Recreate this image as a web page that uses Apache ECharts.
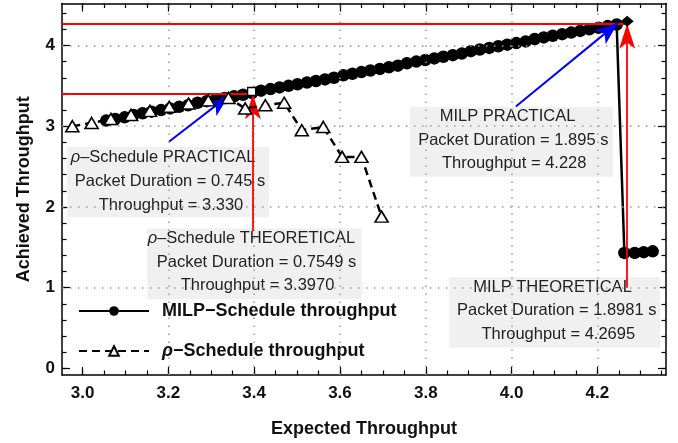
<!DOCTYPE html>
<html><head><meta charset="utf-8">
<script src="https://cdn.jsdelivr.net/npm/echarts@6/dist/echarts.min.js"></script>
<style>html,body{margin:0;padding:0;background:#fff}#c{width:678px;height:443px}</style>
</head><body><div id="c"></div>
<script>
// ---- tick / grid values ----
const xMajorTicks = [3.0, 3.2, 3.4, 3.6, 3.8, 4.0, 4.2];
const xMinorTicks = [3.0, 3.05, 3.1, 3.15, 3.2, 3.25, 3.3, 3.35, 3.4, 3.45, 3.5, 3.55, 3.6, 3.65, 3.7, 3.75, 3.8, 3.85, 3.9, 3.95, 4.0, 4.05, 4.1, 4.15, 4.2, 4.25, 4.3, 4.35];
const yMajorTicks = [0, 1, 2, 3, 4];
const yMinorTicks = [0, 0.2, 0.4, 0.6, 0.8, 1, 1.2, 1.4, 1.6, 1.8, 2, 2.2, 2.4, 2.6, 2.8, 3, 3.2, 3.4, 3.6, 3.8, 4, 4.2, 4.4];
const xGridLines = [3.2, 3.4, 3.6, 3.8, 4.0, 4.2];
const yGridLines = [1, 2, 3, 4];

// ---- series values ----
const milpX = [3.055, 3.076, 3.098, 3.119, 3.140, 3.161, 3.183, 3.204, 3.225, 3.246,
  3.268, 3.289, 3.310, 3.331, 3.353, 3.374, 3.395, 3.416, 3.438, 3.459,
  3.480, 3.501, 3.523, 3.544, 3.565, 3.586, 3.608, 3.629, 3.650, 3.671,
  3.693, 3.714, 3.735, 3.756, 3.778, 3.799, 3.820, 3.841, 3.863, 3.884,
  3.905, 3.926, 3.948, 3.969, 3.990, 4.011, 4.033, 4.054, 4.075, 4.096,
  4.118, 4.139, 4.160, 4.181, 4.203, 4.224, 4.245,
  4.263, 4.287, 4.308, 4.329];
const milpY = [3.07, 3.09, 3.11, 3.14, 3.16, 3.18, 3.20, 3.22, 3.24, 3.26,
  3.29, 3.31, 3.33, 3.35, 3.37, 3.39, 3.41, 3.44, 3.46, 3.48,
  3.50, 3.52, 3.54, 3.56, 3.58, 3.60, 3.63, 3.65, 3.67, 3.69,
  3.71, 3.73, 3.75, 3.78, 3.80, 3.82, 3.84, 3.86, 3.88, 3.90,
  3.93, 3.95, 3.97, 3.99, 4.01, 4.03, 4.05, 4.08, 4.10, 4.12,
  4.14, 4.16, 4.18, 4.20, 4.22, 4.24, 4.26,
  1.43, 1.43, 1.44, 1.45];
const rhoX = [2.976, 3.021, 3.066, 3.113, 3.157, 3.202, 3.247, 3.293, 3.340, 3.379, 3.426, 3.470, 3.511, 3.561, 3.605, 3.650, 3.697];
const rhoY = [3.00, 3.04, 3.09, 3.14, 3.19, 3.24, 3.28, 3.32, 3.35, 3.22, 3.26, 3.29, 2.95, 2.99, 2.62, 2.62, 1.88];

// theoretical optimum markers and reference values
const rhoTheoryPoint = [3.394, 3.43];
const milpTheoryPoint = [4.2695, 4.30];
const rhoTheoryValue = 3.397;
const milpTheoryValue = 4.2695;
const rhoPracticalPoint = [3.342, 3.385];
const milpPracticalPoint = [4.248, 4.28];

const MILP_NAME = 'MILP\u2212Schedule throughput';
const RHO_NAME = '\u03c1\u2212Schedule throughput';

const annRhoPractical = ['{i|\u03c1}\u2013Schedule PRACTICAL', 'Packet Duration = 0.745 s', 'Throughput = 3.330'];
const annRhoTheory = ['{i|\u03c1}\u2013Schedule THEORETICAL', 'Packet Duration = 0.7549 s', 'Throughput = 3.3970'];
const annMilpPractical = ['MILP PRACTICAL', 'Packet Duration = 1.895 s', 'Throughput = 4.228'];
const annMilpTheory = ['MILP THEORETICAL', 'Packet Duration = 1.8981 s', 'Throughput = 4.2695'];

// ---- layout ----
const X_MIN = 2.952, X_MAX = 4.36, Y_MIN = -0.082, Y_MAX = 4.52;
const FONT = 'Liberation Sans';

function box(x, y, w, h, lines, centers, lineYs) {
  const els = [{type: 'rect', z: 1, shape: {x: x, y: y, width: w, height: h}, style: {fill: '#f0f0f0'}}];
  lines.forEach((t, i) => {
    els.push({type: 'text', z: 2, x: centers[i], y: lineYs[i], style: {
      text: t, align: 'center', verticalAlign: 'middle', textAlign: 'center', textVerticalAlign: 'middle',
      fontFamily: FONT, fontSize: 16.5, fill: '#222',
      rich: {i: {fontStyle: 'italic', fontFamily: FONT, fontSize: 16.5, fill: '#222'}}
    }});
  });
  return els;
}

const tickLabelStyle = {fontFamily: FONT, fontWeight: 'bold', fontSize: 17, color: '#111'};
function xAxisDef(pos, ticks, len, showLine, showLabel) {
  return {type: 'value', position: pos, min: X_MIN, max: X_MAX,
    axisLine: {show: showLine, onZero: false, lineStyle: {color: '#000', width: 1.5}},
    axisTick: {show: true, inside: true, length: len, customValues: ticks, lineStyle: {color: '#000', width: 1.2}},
    axisLabel: showLabel ? Object.assign({show: true, margin: 10, customValues: xMajorTicks, formatter: v => Number(v).toFixed(1)}, tickLabelStyle) : {show: false},
    splitLine: {show: false}};
}
function yAxisDef(pos, ticks, len, showLine, showLabel) {
  return {type: 'value', position: pos, min: Y_MIN, max: Y_MAX,
    axisLine: {show: showLine, onZero: false, lineStyle: {color: '#000', width: 1.5}},
    axisTick: {show: true, inside: true, length: len, customValues: ticks, lineStyle: {color: '#000', width: 1.2}},
    axisLabel: showLabel ? Object.assign({show: true, margin: 7, customValues: yMajorTicks, formatter: v => String(Math.round(v))}, tickLabelStyle) : {show: false},
    splitLine: {show: false}};
}

const xAxes = [xAxisDef('bottom', xMajorTicks, 8, true, true), xAxisDef('bottom', xMinorTicks, 4.5, false, false),
  xAxisDef('top', xMajorTicks, 8, true, false), xAxisDef('top', xMinorTicks, 4.5, false, false)];
Object.assign(xAxes[0], {name: 'Expected Throughput', nameLocation: 'middle', nameGap: 45,
  nameTextStyle: {fontFamily: FONT, fontWeight: 'bold', fontSize: 18, color: '#111'}});
const yAxes = [yAxisDef('left', yMajorTicks, 8, true, true), yAxisDef('left', yMinorTicks, 4.5, false, false),
  yAxisDef('right', yMajorTicks, 8, true, false), yAxisDef('right', yMinorTicks, 4.5, false, false)];
Object.assign(yAxes[0], {name: 'Achieved Throughput', nameLocation: 'middle', nameGap: 29, nameRotate: 90,
  nameTextStyle: {fontFamily: FONT, fontWeight: 'bold', fontSize: 18, color: '#111'}});

const redLine = {color: '#ff0000', width: 1.8, type: 'solid'};
const blueLine = {color: '#0000ff', width: 2, type: 'solid'};

const option = {
  animation: false,
  backgroundColor: '#fff',
  grid: {left: 62, right: 12, top: 3.5, bottom: 68},
  xAxis: xAxes,
  yAxis: yAxes,
  legend: {
    left: 78, top: 302, padding: 0, orient: 'vertical', itemWidth: 70, itemHeight: 12, itemGap: 22,
    data: [MILP_NAME, RHO_NAME],
    formatter: n => n === RHO_NAME ? '{i|\u03c1}\u2212Schedule throughput' : n,
    textStyle: {fontFamily: FONT, fontWeight: 'bold', fontSize: 18, color: '#111', padding: [0, 0, 0, 8],
      rich: {i: {fontFamily: FONT, fontWeight: 'bold', fontStyle: 'italic', fontSize: 18, color: '#111'}}}
  },
  graphic: [].concat(
    box(67.3, 146.7, 202, 70.6, annRhoPractical, [163, 170, 171], [157, 181, 205]),
    box(147.3, 228.3, 214.4, 71, annRhoTheory, [251.5, 256.5, 257.5], [238.3, 262.3, 285.7]),
    box(410, 106.7, 202.7, 70, annMilpPractical, [507.5, 513.3, 514.2], [116, 140, 163.3]),
    box(449.3, 277.3, 210.7, 70.4, annMilpTheory, [552.5, 556.7, 558.3], [287.7, 310.7, 334.3])
  ),
  series: [
    {type: 'line', name: 'grid', data: [], z: 0, silent: true,
      markLine: {silent: true, symbol: ['none', 'none'], label: {show: false},
        lineStyle: {color: '#9a9a9a', width: 1.5, type: [1.5, 6.5]},
        data: xGridLines.map(v => ({xAxis: v})).concat(yGridLines.map(v => ({yAxis: v})))}},
    {type: 'line', name: MILP_NAME, z: 4, data: milpX.map((x, i) => [x, milpY[i]]),
      symbol: 'circle', symbolSize: 12.5, showAllSymbol: true,
      itemStyle: {color: '#000'}, lineStyle: {color: '#000', width: 2.5}},
    {type: 'line', name: RHO_NAME, z: 5, data: rhoX.map((x, i) => [x, rhoY[i]]),
      symbol: 'triangle', symbolSize: [13, 11], showAllSymbol: true,
      itemStyle: {color: '#fff', borderColor: '#000', borderWidth: 1.6},
      lineStyle: {color: '#000', width: 2.5, type: [8, 5]}},
    {type: 'scatter', name: 'theory', z: 6, silent: true,
      data: [
        {value: rhoTheoryPoint, symbol: 'rect', symbolSize: 8, itemStyle: {color: '#fff', borderColor: '#000', borderWidth: 1.3, opacity: 1}},
        {value: milpTheoryPoint, symbol: 'diamond', symbolSize: [13, 11], itemStyle: {color: '#000', opacity: 1}}
      ]},
    {type: 'line', name: 'annot', data: [], z: 8, silent: true,
      markLine: {silent: true, label: {show: false}, symbol: ['none', 'none'],
        data: [
          [{coord: [X_MIN, milpTheoryValue], lineStyle: redLine}, {coord: [milpTheoryValue, milpTheoryValue]}],
          [{coord: [X_MIN, rhoTheoryValue], lineStyle: redLine}, {coord: [rhoTheoryValue, rhoTheoryValue]}],
          [{coord: [rhoTheoryValue, 1.70], lineStyle: redLine, symbol: 'none'}, {coord: [rhoTheoryValue, rhoTheoryValue], symbol: 'arrow', symbolSize: [12, 25]}],
          [{coord: [milpTheoryValue, 1.0], lineStyle: redLine, symbol: 'none'}, {coord: [milpTheoryValue, milpTheoryValue], symbol: 'arrow', symbolSize: [12, 25]}],
          [{coord: [3.202, 2.81], lineStyle: blueLine, symbol: 'none'}, {coord: rhoPracticalPoint, symbol: 'arrow', symbolSize: [13, 23]}],
          [{coord: [4.010, 3.243], lineStyle: blueLine, symbol: 'none'}, {coord: milpPracticalPoint, symbol: 'arrow', symbolSize: [13, 23]}]
        ]}}
  ]
};
const chart = echarts.init(document.getElementById('c'));
chart.setOption(option);
</script></body></html>
